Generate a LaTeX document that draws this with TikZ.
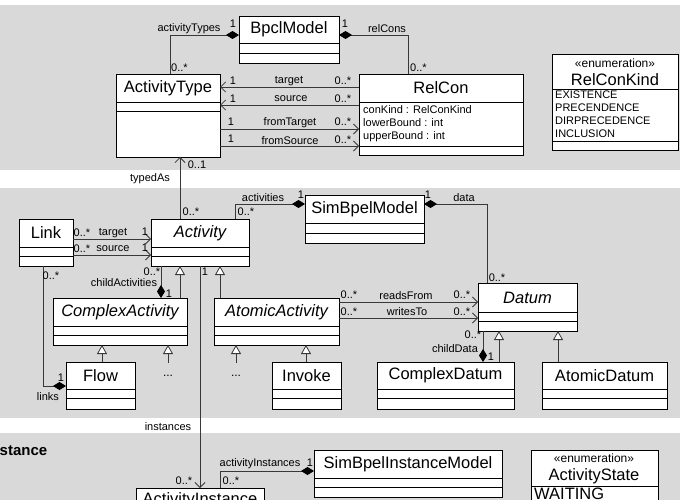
\documentclass[tikz,border=0pt]{standalone}
\usepackage{fontspec}
\setmainfont{Liberation Sans}
\usetikzlibrary{arrows.meta,calc}
\definecolor{bandgray}{HTML}{D9D9D9}
\definecolor{linegray}{HTML}{383838}
\tikzset{
 classbox/.style={draw=black, line width=0.9pt, fill=white, inner sep=0pt, outer sep=0pt},
 classline/.style={draw=black, line width=0.9pt},
 classname/.style={font=\fontsize{16.5}{18}\selectfont, inner sep=0pt},
 abstractname/.style={font=\fontsize{16.5}{18}\selectfont\itshape, inner sep=0pt},
 stereo/.style={font=\fontsize{12}{13}\selectfont, inner sep=0pt},
 lbl/.style={font=\fontsize{11}{12}\selectfont, inner sep=0pt},
 attr/.style={font=\fontsize{11}{12}\selectfont, inner sep=0pt, anchor=west},
 conn/.style={draw=linegray, line width=0.8pt},
 nav/.style={conn, -{Straight Barb[length=5pt,width=10pt,line width=0.8pt]}},
 comp/.style={conn, {Diamond[length=13pt,width=8pt,fill=black,color=black]}-},
 gen/.style={conn, -{Triangle[open,length=9pt,width=10pt,fill=white]}},
 dotsnode/.style={font=\fontsize{12}{13}\selectfont, inner sep=0pt, text height=13pt, text depth=0pt, anchor=base},
}
\newcommand\umlbox[9]{%
 \pgfmathsetmacro\umlbw{#4-#2}%
 \pgfmathsetmacro\umlbh{#5-#3}%
 \node[classbox, minimum width=\umlbw pt, minimum height=\umlbh pt, anchor=north west] (#1) at (#2,#3) {};
 \draw[classline] (#2,#6) -- (#4,#6) (#2,#7) -- (#4,#7);
 \node[#8] (#1-name) at ({(#2+#4)/2},{(#3+#6)/2}) {#9};
}
\begin{document}
\begin{tikzpicture}[x=1pt,y=-1pt]
\useasboundingbox (0,0) rectangle (680,500);
\fill[bandgray] (0,5) rectangle (680,170);
\fill[bandgray] (0,188) rectangle (680,418);
\fill[bandgray] (0,433) rectangle (680,500);

% ---------- top band ----------
\umlbox{bpcl}{239}{16}{339}{63}{43}{53}{classname}{BpclModel}
\umlbox{atype}{116}{74}{220}{157}{102}{111}{classname}{ActivityType}
\umlbox{relcon}{359}{74}{523}{155}{102}{146}{classname}{RelCon}
\node[attr] (rc1) at (363,110) {conKind : RelConKind};
\node[attr] (rc2) at (363,123) {lowerBound : int};
\node[attr] (rc3) at (363,137) {upperBound : int};

\node[classbox, minimum width=126pt, minimum height=96pt, anchor=north west] (rck) at (552,54) {};
\draw[classline] (rck.west |- 0,89) -- (rck.east |- 0,89) (rck.west |- 0,141) -- (rck.east |- 0,141);
\node[stereo] (rck-st) at (615,63) {«enumeration»};
\node[classname] (rck-name) at (615,80) {RelConKind};
\node[attr] (rck1) at (555,95) {EXISTENCE};
\node[attr] (rck2) at (555,108) {PRECENDENCE};
\node[attr] (rck3) at (555,121) {DIRPRECEDENCE};
\node[attr] (rck4) at (555,134) {INCLUSION};

\draw[comp] (bpcl.west |- 0,35) -| (atype.north -| 170,0);
\node[lbl] (l1a) at (189,29) {activityTypes};
\node[lbl] (l1b) at (233,24) {1};
\node[lbl,anchor=west] (l1c) at (171,68) {0..*};

\draw[comp] (bpcl.east |- 0,35) -| (relcon.north -| 408,0);
\node[lbl] (l2a) at (387,29) {relCons};
\node[lbl] (l2b) at (345,24) {1};
\node[lbl,anchor=west] (l2c) at (410,68) {0..*};

\draw[nav] (relcon.west |- 0,87) -- (atype.east |- 0,87);
\node[lbl] (l3a) at (233,81) {1};
\node[lbl] (l3b) at (289,81) {target};
\node[lbl] (l3c) at (343,81) {0..*};

\draw[nav] (relcon.west |- 0,105) -- (atype.east |- 0,105);
\node[lbl] (l4a) at (233,99) {1};
\node[lbl] (l4b) at (291,99) {source};
\node[lbl] (l4c) at (343,99) {0..*};

\draw[nav] (atype.east |- 0,129) -- (relcon.west |- 0,129);
\node[lbl] (l5a) at (231,122) {1};
\node[lbl] (l5b) at (290,123) {fromTarget};
\node[lbl] (l5c) at (343,122) {0..*};

\draw[nav] (atype.east |- 0,146) -- (relcon.west |- 0,146);
\node[lbl] (l6a) at (231,139) {1};
\node[lbl] (l6b) at (290,141) {fromSource};
\node[lbl] (l6c) at (343,140) {0..*};

% ---------- middle band ----------
\umlbox{link}{19}{219}{73}{266}{247}{256}{classname}{Link}
\umlbox{act}{151}{219}{249}{266}{247}{256}{abstractname}{Activity}
\umlbox{sbm}{305}{195}{424}{243}{223}{233}{classname}{SimBpelModel}
\umlbox{cact}{53}{298}{187}{345}{326}{335}{abstractname}{ComplexActivity}
\umlbox{aact}{214}{298}{339}{345}{326}{335}{abstractname}{AtomicActivity}
\umlbox{datum}{478}{283}{577}{331}{312}{321}{abstractname}{Datum}
\umlbox{flow}{66}{362}{135}{409}{389}{398}{classname}{Flow}
\umlbox{invoke}{272}{362}{341}{409}{389}{398}{classname}{Invoke}
\umlbox{cdatum}{377}{362}{514}{409}{389}{398}{classname}{ComplexDatum}
\umlbox{adatum}{542}{362}{667}{409}{389}{398}{classname}{AtomicDatum}

\draw[nav] (act.north -| 180,0) -- (atype.south -| 180,0);
\node[lbl] (l7a) at (197,165) {0..1};
\node[lbl] (l7b) at (150,179) {typedAs};
\node[lbl] (l7c) at (191,212) {0..*};

\draw[comp] (sbm.west |- 0,204) -| (act.north -| 235,0);
\node[lbl] (l8a) at (263,198) {activities};
\node[lbl] (l8b) at (301,195) {1};
\node[lbl] (l8c) at (246,212) {0..*};

\draw[comp] (sbm.east |- 0,204) -| (datum.north -| 487,0);
\node[lbl] (l9a) at (464,198) {data};
\node[lbl] (l9b) at (428,195) {1};
\node[lbl] (l9c) at (497,278) {0..*};

\draw[nav] (link.east |- 0,239) -- (act.west |- 0,239);
\node[lbl] (l10a) at (82,233) {0..*};
\node[lbl] (l10b) at (113,233) {target};
\node[lbl] (l10c) at (145,232) {1};

\draw[nav] (link.east |- 0,255) -- (act.west |- 0,255);
\node[lbl] (l11a) at (82,249) {0..*};
\node[lbl] (l11b) at (113,249) {source};
\node[lbl] (l11c) at (145,248) {1};

\draw[comp] (cact.north -| 161,0) -- (act.south -| 161,0);
\node[lbl] (l12a) at (152,272) {0..*};
\node[lbl] (l12b) at (124,283) {childActivities};
\node[lbl] (l12c) at (169,294) {1};

\draw[gen] (cact.north -| 180,0) -- (act.south -| 180,0);
\draw[gen] (aact.north -| 220,0) -- (act.south -| 220,0);

\draw[comp] (flow.west |- 0,386) -| (link.south -| 43,0);
\node[lbl] (l13a) at (51,276) {0..*};
\node[lbl] (l13b) at (61,378) {1};
\node[lbl] (l13c) at (48,397) {links};

\draw[gen] (flow.north -| 102,0) -- (cact.south -| 102,0);
\node[dotsnode] (dotsA) at (168,376) {...};
\draw[gen] (dotsA.north) -- (cact.south -| dotsA.north);
\node[dotsnode] (dotsB) at (236,376) {...};
\draw[gen] (dotsB.north) -- (aact.south -| dotsB.north);
\draw[gen] (invoke.north -| 306,0) -- (aact.south -| 306,0);

\draw[nav] (aact.east |- 0,302) -- (datum.west |- 0,302);
\node[lbl] (l14a) at (349,295) {0..*};
\node[lbl] (l14b) at (406,296) {readsFrom};
\node[lbl] (l14c) at (462,295) {0..*};

\draw[nav] (aact.east |- 0,318) -- (datum.west |- 0,318);
\node[lbl] (l15a) at (349,312) {0..*};
\node[lbl] (l15b) at (407,312) {writesTo};
\node[lbl] (l15c) at (462,312) {0..*};

\draw[comp] (cdatum.north -| 483,0) -- (datum.south -| 483,0);
\node[lbl] (l16a) at (473,335) {0..*};
\node[lbl] (l16b) at (455,349) {childData};
\node[lbl] (l16c) at (491,357) {1};
\draw[gen] (cdatum.north -| 499,0) -- (datum.south -| 499,0);
\draw[gen] (adatum.north -| 558,0) -- (datum.south -| 558,0);

% ---------- bottom band ----------
\node[font=\fontsize{15}{17}\selectfont\bfseries, inner sep=0pt, anchor=west] (pkg) at (-0.5,451) {stance};
\umlbox{sbim}{314}{450}{502}{497}{478}{487}{classname}{SimBpelInstanceModel}
\umlbox{ainst}{136}{488}{264}{530}{513}{520}{classname}{ActivityInstance}

\node[classbox, minimum width=127pt, minimum height=70pt, anchor=north west] (astate) at (531,450) {};
\draw[classline] (astate.west |- 0,486) -- (astate.east |- 0,486);
\node[stereo] (astate-st) at (594,458) {«enumeration»};
\node[classname] (astate-name) at (594,476) {ActivityState};
\node[classname, anchor=west] (astate1) at (534,493.5) {WAITING};

\draw[nav] (act.south -| 200,0) -- (ainst.north -| 200,0);
\node[lbl] (l17a) at (205,272) {1};
\node[lbl] (l17b) at (168,427) {instances};
\node[lbl] (l17c) at (184,481) {0..*};

\draw[comp] (sbim.west |- 0,471) -| (ainst.north -| 220,0);
\node[lbl] (l18a) at (260,464) {activityInstances};
\node[lbl] (l18b) at (310,463) {1};
\node[lbl] (l18c) at (231,481) {0..*};
\end{tikzpicture}
\end{document}
